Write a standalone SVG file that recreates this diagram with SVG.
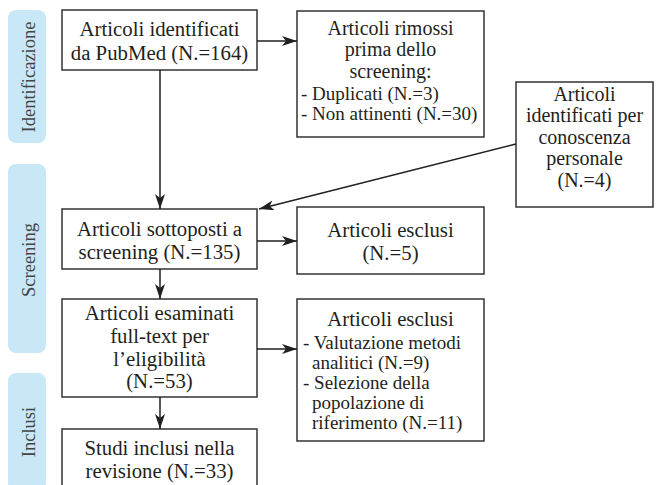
<svg xmlns="http://www.w3.org/2000/svg" width="656" height="485" viewBox="0 0 656 485">
<defs>
<marker id="ah" viewBox="0 0 15 10" refX="15" refY="5" markerWidth="15" markerHeight="10" markerUnits="userSpaceOnUse" orient="auto">
<path d="M0,0 L15,5 L0,10 L4,5 Z" fill="#231f20"/>
</marker>
<style>
.pill{fill:#c8e8f8;}
.pt{font-family:'Liberation Serif','Times New Roman',serif;font-size:18.5px;fill:#444444;text-anchor:middle;}
.box{fill:#ffffff;stroke:#333333;stroke-width:1.5;}
.t{font-family:'Liberation Serif','Times New Roman',serif;font-size:20.8px;fill:#231f20;}
.s{font-family:'Liberation Serif','Times New Roman',serif;font-size:20px;fill:#231f20;}
.l{font-family:'Liberation Serif','Times New Roman',serif;font-size:19px;fill:#231f20;}
.c{text-anchor:middle;}
.conn line{stroke:#231f20;stroke-width:1.5;marker-end:url(#ah);}
</style>
</defs>
<rect width="656" height="485" fill="#ffffff"/>
<g id="phase-identificazione">
<rect class="pill" x="8" y="10" width="38" height="133" rx="8"/>
<text class="pt" transform="translate(34.5,77) rotate(-90)">Identificazione</text>
</g>
<g id="phase-screening">
<rect class="pill" x="8" y="164" width="38" height="189" rx="8"/>
<text class="pt" transform="translate(34.5,260) rotate(-90)">Screening</text>
</g>
<g id="phase-inclusi">
<rect class="pill" x="8" y="373" width="38" height="118" rx="8"/>
<text class="pt" transform="translate(34.5,432) rotate(-90)">Inclusi</text>
</g>
<g id="n-pubmed">
<rect class="box" x="62" y="10" width="195" height="60"/>
<text class="t c" x="159.5" y="36">Articoli identificati</text>
<text class="t c" x="159.5" y="59.5">da PubMed (N.=164)</text>
</g>
<g id="n-rimossi">
<rect class="box" x="297" y="11" width="187" height="126"/>
<text class="s c" x="390.5" y="34.5">Articoli rimossi</text>
<text class="s c" x="390.5" y="56">prima dello</text>
<text class="s c" x="390.5" y="77.5">screening:</text>
<text class="l" x="301" y="99.5">- Duplicati (N.=3)</text>
<text class="l" x="301" y="119.5">- Non attinenti (N.=30)</text>
</g>
<g id="n-conoscenza">
<rect class="box" x="516" y="82" width="137" height="125"/>
<text class="s c" x="584.5" y="100.5">Articoli</text>
<text class="s c" x="584.5" y="122">identificati per</text>
<text class="s c" x="584.5" y="143.5">conoscenza</text>
<text class="s c" x="584.5" y="165">personale</text>
<text class="s c" x="584.5" y="186.5">(N.=4)</text>
</g>
<g id="n-screening">
<rect class="box" x="62" y="209" width="195" height="60"/>
<text class="t c" x="159.5" y="236">Articoli sottoposti a</text>
<text class="t c" x="159.5" y="259">screening (N.=135)</text>
</g>
<g id="n-esclusi1">
<rect class="box" x="297" y="207" width="187" height="67"/>
<text class="t c" x="390.5" y="236.5">Articoli esclusi</text>
<text class="t c" x="390.5" y="259.5">(N.=5)</text>
</g>
<g id="n-fulltext">
<rect class="box" x="62" y="299" width="195" height="98"/>
<text class="t c" x="159.5" y="320">Articoli esaminati</text>
<text class="t c" x="159.5" y="342.8">full-text per</text>
<text class="t c" x="159.5" y="365.6">l’eligibilità</text>
<text class="t c" x="159.5" y="388.4">(N.=53)</text>
</g>
<g id="n-esclusi2">
<rect class="box" x="297" y="299" width="187" height="142"/>
<text class="t c" x="390.5" y="325.5">Articoli esclusi</text>
<text class="l" x="303" y="349">- Valutazione metodi</text>
<text class="l" x="312" y="369">analitici (N.=9)</text>
<text class="l" x="303" y="389">- Selezione della</text>
<text class="l" x="312" y="409">popolazione di</text>
<text class="l" x="312" y="429">riferimento (N.=11)</text>
</g>
<g id="n-inclusi">
<rect class="box" x="62" y="429" width="195" height="62"/>
<text class="t c" x="159.5" y="455">Studi inclusi nella</text>
<text class="t c" x="159.5" y="478">revisione (N.=33)</text>
</g>
<g id="connectors" class="conn">
<line x1="257" y1="41" x2="297" y2="41"/>
<line x1="160" y1="70" x2="160" y2="209"/>
<line x1="516" y1="144" x2="259" y2="209"/>
<line x1="257" y1="241" x2="297" y2="241"/>
<line x1="160" y1="269" x2="160" y2="299"/>
<line x1="257" y1="349" x2="297" y2="349"/>
<line x1="160" y1="397" x2="160" y2="429"/>
</g>
</svg>
